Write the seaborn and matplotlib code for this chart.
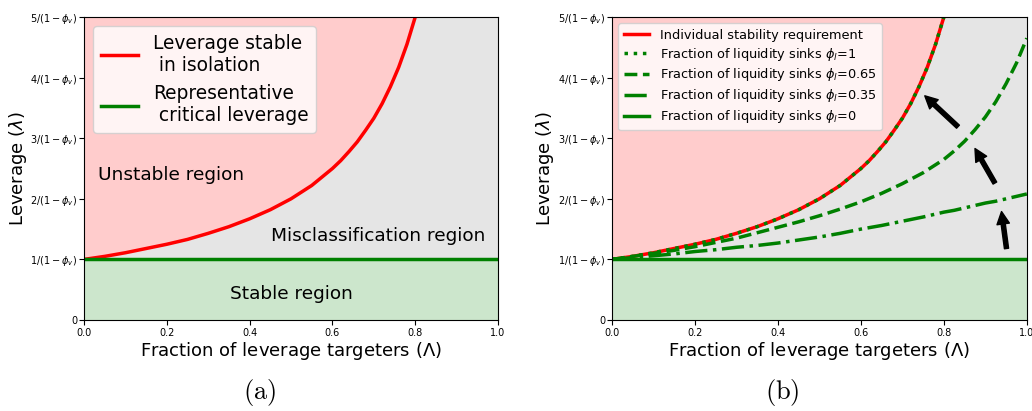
import numpy as np
import matplotlib
matplotlib.use("Agg")
import matplotlib.pyplot as plt
import seaborn as sns

# values
lam_red = [0.0, 0.05, 0.1, 0.15, 0.2, 0.25, 0.3, 0.35, 0.4, 0.45, 0.5, 0.55,
           0.6, 0.62, 0.64, 0.66, 0.68, 0.7, 0.72, 0.74, 0.76, 0.78, 0.8]
lev_red = [1.00, 1.05, 1.11, 1.18, 1.25, 1.33, 1.43, 1.54, 1.67, 1.82, 2.00,
           2.22, 2.50, 2.63, 2.78, 2.94, 3.13, 3.33, 3.57, 3.85, 4.17, 4.55, 5.00]

lam_full = [0.0, 0.05, 0.1, 0.15, 0.2, 0.25, 0.3, 0.35, 0.4, 0.45, 0.5, 0.55,
            0.6, 0.65, 0.7, 0.75, 0.8, 0.825, 0.85, 0.875, 0.9, 0.925, 0.95,
            0.975, 1.0]
lev_065 = [1.00, 1.05, 1.10, 1.15, 1.21, 1.28, 1.35, 1.44, 1.53, 1.62, 1.72,
           1.83, 1.95, 2.09, 2.25, 2.43, 2.65, 2.79, 2.95, 3.14, 3.35, 3.60,
           3.90, 4.24, 4.65]
lev_035 = [1.00, 1.03, 1.06, 1.09, 1.13, 1.16, 1.20, 1.23, 1.27, 1.32, 1.37,
           1.43, 1.50, 1.56, 1.63, 1.70, 1.78, 1.81, 1.85, 1.89, 1.93, 1.96,
           2.00, 2.04, 2.08]
lev_0 = [1.0] * len(lam_full)

ytick_vals = [0, 1, 2, 3, 4, 5]
ytick_labels = ["0"] + [r"$%d/(1-\phi_v)$" % k for k in range(1, 6)]
xtick_vals = [0.0, 0.2, 0.4, 0.6, 0.8, 1.0]

phi_labels = ["1", "0.65", "0.35", "0"]

# arrows (tail, head) in data coords, right panel
arrows = [((0.951, 1.18), (0.939, 1.79)),
          ((0.923, 2.26), (0.875, 2.83)),
          ((0.834, 3.19), (0.754, 3.70))]

plt.rcParams["mathtext.fontset"] = "dejavusans"

fig = plt.figure(figsize=(10.32, 4.11), dpi=100)
ax1 = fig.add_axes([0.0814, 0.2214, 0.4012, 0.7372])
ax2 = fig.add_axes([0.5930, 0.2214, 0.4020, 0.7372])

pink = (1.0, 0.8, 0.8)
grey = (0.898, 0.898, 0.898)
lgreen = (0.8, 0.9, 0.8)


def base(ax):
    ax.axhspan(1, 5, color=grey, lw=0, zorder=0)
    ax.axhspan(0, 1, color=lgreen, lw=0, zorder=0)
    ax.fill_between(lam_red, lev_red, 5, color=pink, lw=0, zorder=0)
    ax.set_xlim(0, 1)
    ax.set_ylim(0, 5)
    ax.set_yticks(ytick_vals)
    ax.set_yticklabels(ytick_labels, fontsize=7)
    ax.set_xticks(xtick_vals)
    ax.set_xticklabels(["%.1f" % v for v in xtick_vals], fontsize=7)
    ax.tick_params(axis="y", pad=1.5)
    ax.tick_params(axis="x", pad=2)
    ax.set_xlabel(r"Fraction of leverage targeters ($\Lambda$)", fontsize=13, labelpad=2)
    ax.set_ylabel(r"Leverage ($\lambda$)", fontsize=13, labelpad=1)


# (a)
base(ax1)
sns.lineplot(x=lam_red, y=lev_red, ax=ax1, color="red", lw=2.5,
             label="Leverage stable\n in isolation")
sns.lineplot(x=lam_full, y=lev_0, ax=ax1, color="green", lw=2.5,
             label="Representative\n critical leverage")
ax1.legend(loc="upper left", fontsize=13.4, framealpha=0.8)
ax1.text(0.21, 2.39, "Unstable region", fontsize=13.3, ha="center", va="center")
ax1.text(0.71, 1.39, "Misclassification region", fontsize=13.3, ha="center", va="center")
ax1.text(0.5, 0.43, "Stable region", fontsize=13.3, ha="center", va="center")

# (b)
base(ax2)
sns.lineplot(x=lam_red, y=lev_red, ax=ax2, color="red", lw=2.5,
             label="Individual stability requirement")
sns.lineplot(x=lam_red, y=lev_red, ax=ax2, color="green", lw=2.5,
             linestyle=":", label=r"Fraction of liquidity sinks $\phi_l$=" + phi_labels[0])
sns.lineplot(x=lam_full, y=lev_065, ax=ax2, color="green", lw=2.5,
             linestyle="--", label=r"Fraction of liquidity sinks $\phi_l$=" + phi_labels[1])
sns.lineplot(x=lam_full, y=lev_035, ax=ax2, color="green", lw=2.5,
             linestyle="-.", label=r"Fraction of liquidity sinks $\phi_l$=" + phi_labels[2])
sns.lineplot(x=lam_full, y=lev_0, ax=ax2, color="green", lw=2.5,
             label=r"Fraction of liquidity sinks $\phi_l$=" + phi_labels[3])
ax2.legend(loc="upper left", fontsize=9.3, framealpha=0.8, labelspacing=0.3)
for tail, head in arrows:
    ax2.annotate("", xy=head, xytext=tail,
                 arrowprops=dict(facecolor="black", edgecolor="black",
                                 width=3, headwidth=9, headlength=9))

fig.text(0.251, 0.046, r"$\mathrm{(a)}$", fontsize=19, math_fontfamily="cm",
         ha="center", va="center")
fig.text(0.758, 0.046, r"$\mathrm{(b)}$", fontsize=19, math_fontfamily="cm",
         ha="center", va="center")

fig.savefig("out.png", dpi=100)
